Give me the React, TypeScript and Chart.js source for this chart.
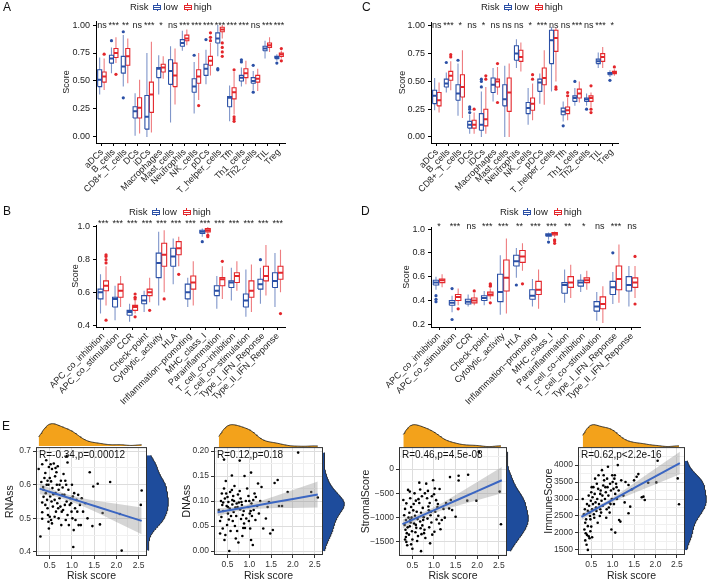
import React, { useEffect, useRef } from 'react';
import { Chart, registerables } from 'chart.js';
Chart.register(...registerables);

const FONT = '"Liberation Sans", Arial, Helvetica, sans-serif';
Chart.defaults.font.family = FONT;
Chart.defaults.color = '#222';

// ---------------- data ----------------
const immuneCells = ['aDCs', 'B_cells', 'CD8+_T_cells', 'DCs', 'iDCs', 'Macrophages', 'Mast_cells', 'Neutrophils', 'NK_cells', 'pDCs', 'T_helper_cells', 'Tfh', 'Th1_cells', 'Th2_cells', 'TIL', 'Treg'];
const immuneFunctions = ['APC_co_inhibition', 'APC_co_stimulation', 'CCR', 'Check\u2212point', 'Cytolytic_activity', 'HLA', 'Inflammation\u2212promoting', 'MHC_class_I', 'Parainflammation', 'T_cell_co\u2212inhibition', 'T_cell_co\u2212stimulation', 'Type_I_IFN_Reponse', 'Type_II_IFN_Reponse'];

// [lower whisker, q1, median, q3, upper whisker]
const aLow = [[0.38, 0.45, 0.51, 0.60, 0.71], [0.57, 0.66, 0.70, 0.73, 0.80], [0.45, 0.57, 0.63, 0.72, 0.91], [0.01, 0.17, 0.23, 0.27, 0.39], [0.00, 0.07, 0.18, 0.37, 0.75], [0.38, 0.53, 0.61, 0.62, 0.73], [0.13, 0.47, 0.59, 0.69, 0.81], [0.77, 0.81, 0.84, 0.87, 0.95], [0.21, 0.40, 0.45, 0.52, 0.67], [0.47, 0.55, 0.61, 0.65, 0.78], [0.72, 0.84, 0.88, 0.93, 1.00], [0.14, 0.27, 0.35, 0.36, 0.46], [0.45, 0.50, 0.53, 0.55, 0.62], [0.42, 0.48, 0.50, 0.53, 0.59], [0.70, 0.77, 0.79, 0.81, 0.86], [0.68, 0.70, 0.71, 0.72, 0.74]];
const aLowOut = [[], [0.86], [0.94, 0.35], [], [], [], [], [], [0.73], [0.87], [0.60, 0.61], [], [0.67, 0.69], [0.40, 0.64], [], [0.66]];
const aHigh = [[0.42, 0.49, 0.54, 0.58, 0.70], [0.66, 0.71, 0.75, 0.79, 0.89], [0.48, 0.64, 0.72, 0.79, 0.88], [0.03, 0.17, 0.26, 0.35, 0.51], [0.04, 0.22, 0.38, 0.49, 0.85], [0.52, 0.58, 0.62, 0.65, 0.72], [0.29, 0.45, 0.55, 0.66, 0.79], [0.82, 0.86, 0.88, 0.91, 0.96], [0.33, 0.48, 0.54, 0.60, 0.75], [0.55, 0.64, 0.68, 0.72, 0.84], [0.88, 0.94, 0.96, 0.98, 1.00], [0.20, 0.34, 0.40, 0.44, 0.58], [0.47, 0.53, 0.57, 0.61, 0.68], [0.41, 0.49, 0.52, 0.55, 0.61], [0.76, 0.80, 0.82, 0.84, 0.89], [0.70, 0.72, 0.74, 0.75, 0.77]];
const aHighOut = [[0.74], [0.56], [], [], [], [], [], [], [0.28], [0.86, 0.89, 0.93], [0.72, 0.76, 0.80, 0.84], [0.14, 0.16, 0.18, 0.60], [], [], [], [0.68, 0.79]];
const aSig = ['ns', '***', '**', 'ns', '***', '*', 'ns', '***', '***', '***', '***', '***', '***', 'ns', '***', '***'];

const cLow = [[0.24, 0.30, 0.37, 0.42, 0.53], [0.40, 0.45, 0.48, 0.52, 0.58], [0.19, 0.33, 0.39, 0.47, 0.66], [0.03, 0.08, 0.11, 0.14, 0.20], [0.00, 0.06, 0.11, 0.21, 0.41], [0.32, 0.40, 0.47, 0.53, 0.62], [0.00, 0.28, 0.34, 0.47, 0.64], [0.62, 0.69, 0.75, 0.82, 0.88], [0.11, 0.21, 0.26, 0.31, 0.44], [0.30, 0.41, 0.49, 0.52, 0.57], [0.41, 0.66, 0.87, 0.96, 0.99], [0.14, 0.20, 0.23, 0.26, 0.32], [0.28, 0.32, 0.35, 0.37, 0.44], [0.28, 0.32, 0.34, 0.35, 0.39], [0.62, 0.66, 0.68, 0.70, 0.76], [0.54, 0.56, 0.57, 0.58, 0.60]];
const cLowOut = [[], [0.67], [0.69], [0.22, 0.25, 0.27], [0.45, 0.50, 0.52], [], [], [], [], [], [], [0.10], [0.50], [0.25], [], [0.51]];
const cHigh = [[0.22, 0.28, 0.33, 0.40, 0.49], [0.42, 0.51, 0.55, 0.59, 0.68], [0.17, 0.36, 0.45, 0.56, 0.78], [0.03, 0.08, 0.11, 0.15, 0.22], [0.03, 0.10, 0.16, 0.25, 0.45], [0.38, 0.45, 0.50, 0.52, 0.63], [0.00, 0.23, 0.40, 0.53, 0.66], [0.59, 0.68, 0.72, 0.78, 0.85], [0.15, 0.24, 0.30, 0.35, 0.48], [0.29, 0.47, 0.53, 0.62, 0.78], [0.50, 0.77, 0.89, 0.96, 0.98], [0.15, 0.21, 0.24, 0.27, 0.35], [0.31, 0.35, 0.39, 0.43, 0.50], [0.27, 0.32, 0.35, 0.37, 0.40], [0.62, 0.68, 0.72, 0.75, 0.81], [0.55, 0.57, 0.58, 0.59, 0.61]];
const cHighOut = [[], [0.72, 0.74], [], [0.25], [0.52, 0.55], [0.31, 0.66], [], [], [0.52, 0.56], [], [0.43, 0.45], [0.37, 0.40], [], [0.22, 0.25, 0.46], [], [0.63]];
const cSig = ['ns', '***', '*', 'ns', '*', 'ns', 'ns', 'ns', '*', '***', 'ns', 'ns', '***', 'ns', '***', '*'];

const bLow = [[0.47, 0.56, 0.60, 0.62, 0.71], [0.43, 0.51, 0.56, 0.57, 0.64], [0.42, 0.46, 0.48, 0.49, 0.53], [0.48, 0.53, 0.55, 0.58, 0.61], [0.52, 0.69, 0.78, 0.84, 0.97], [0.65, 0.76, 0.82, 0.87, 0.93], [0.51, 0.56, 0.60, 0.65, 0.69], [0.94, 0.96, 0.97, 0.98, 0.99], [0.50, 0.58, 0.61, 0.64, 0.70], [0.55, 0.63, 0.66, 0.67, 0.75], [0.45, 0.51, 0.55, 0.59, 0.74], [0.53, 0.62, 0.65, 0.68, 0.75], [0.51, 0.63, 0.67, 0.72, 0.84]];
const bLowOut = [[], [], [], [], [], [], [], [0.91], [], [], [], [0.80], []];
const bHigh = [[0.52, 0.61, 0.64, 0.67, 0.76], [0.51, 0.57, 0.61, 0.65, 0.70], [0.47, 0.49, 0.51, 0.52, 0.55], [0.54, 0.58, 0.60, 0.62, 0.69], [0.60, 0.76, 0.83, 0.90, 0.98], [0.76, 0.83, 0.87, 0.91, 0.94], [0.52, 0.62, 0.66, 0.70, 0.79], [0.96, 0.97, 0.98, 0.99, 1.00], [0.56, 0.64, 0.68, 0.69, 0.76], [0.61, 0.66, 0.70, 0.72, 0.79], [0.48, 0.57, 0.61, 0.67, 0.77], [0.58, 0.67, 0.70, 0.76, 0.89], [0.60, 0.68, 0.72, 0.76, 0.86]];
const bHighOut = [[0.78, 0.80, 0.82, 0.83, 0.43], [], [0.56, 0.57, 0.59, 0.45], [0.49], [0.56], [0.71], [], [0.94, 0.95], [0.79], [], [], [], [0.47]];
const bSig = ['***', '***', '***', '***', '***', '***', '***', '***', '***', '***', '***', '***', '***'];

const dLow = [[0.49, 0.53, 0.55, 0.57, 0.60], [0.30, 0.36, 0.38, 0.40, 0.44], [0.35, 0.37, 0.39, 0.41, 0.45], [0.36, 0.40, 0.42, 0.44, 0.48], [0.28, 0.39, 0.47, 0.62, 0.78], [0.59, 0.69, 0.73, 0.78, 0.84], [0.35, 0.41, 0.44, 0.49, 0.58], [0.91, 0.94, 0.95, 0.96, 0.97], [0.38, 0.46, 0.53, 0.55, 0.66], [0.47, 0.52, 0.55, 0.57, 0.62], [0.23, 0.31, 0.35, 0.39, 0.47], [0.37, 0.45, 0.51, 0.56, 0.64], [0.35, 0.48, 0.53, 0.60, 0.69]];
const dLowOut = [[0.39, 0.41, 0.44], [0.24, 0.50], [], [], [], [0.53], [], [0.89], [], [], [], [0.80], []];
const dHigh = [[0.51, 0.55, 0.57, 0.58, 0.62], [0.36, 0.40, 0.43, 0.45, 0.50], [0.36, 0.38, 0.40, 0.42, 0.46], [0.41, 0.44, 0.45, 0.47, 0.50], [0.29, 0.48, 0.59, 0.74, 0.92], [0.65, 0.72, 0.77, 0.82, 0.88], [0.33, 0.45, 0.49, 0.56, 0.66], [0.93, 0.95, 0.96, 0.97, 0.98], [0.42, 0.51, 0.55, 0.60, 0.70], [0.49, 0.55, 0.57, 0.59, 0.65], [0.21, 0.33, 0.37, 0.43, 0.52], [0.38, 0.49, 0.58, 0.69, 0.87], [0.42, 0.51, 0.55, 0.59, 0.69]];
const dHighOut = [[], [0.33], [0.48], [0.52, 0.53, 0.54, 0.38], [], [0.54], [], [0.88, 0.90, 0.91], [], [], [], [], [0.77, 0.37]];
const dSig = ['*', '***', 'ns', '***', '***', '**', '***', '***', '**', '*', 'ns', '***', 'ns'];

// tick labels
const ticksAC = [0, 0.25, 0.5, 0.75, 1.0];
const ticksACLabels = ['0.00', '0.25', '0.50', '0.75', '1.00'];
const ticksB = [0.4, 0.6, 0.8, 1.0];
const ticksBLabels = ['0.4', '0.6', '0.8', '1.0'];
const ticksD = [0.2, 0.4, 0.6, 0.8, 1.0];
const ticksDLabels = ['0.2', '0.4', '0.6', '0.8', '1.0'];

// Panel E scatter data: [risk score, value]
const rnaPoints = [[0.25, 0.647], [0.33, 0.661], [0.31, 0.608], [0.35, 0.593], [0.36, 0.564], [0.33, 0.547], [0.33, 0.518], [0.33, 0.499], [0.29, 0.446], [0.42, 0.673], [0.40, 0.635], [0.45, 0.612], [0.43, 0.600], [0.41, 0.575], [0.44, 0.555], [0.40, 0.540], [0.46, 0.510], [0.47, 0.490], [0.48, 0.470], [0.52, 0.661], [0.55, 0.647], [0.50, 0.620], [0.53, 0.610], [0.56, 0.590], [0.51, 0.565], [0.54, 0.550], [0.57, 0.535], [0.50, 0.505], [0.53, 0.495], [0.55, 0.485], [0.59, 0.663], [0.65, 0.637], [0.68, 0.655], [0.62, 0.625], [0.66, 0.600], [0.70, 0.585], [0.63, 0.575], [0.72, 0.560], [0.67, 0.545], [0.74, 0.535], [0.64, 0.520], [0.70, 0.500], [0.76, 0.480], [0.88, 0.685], [0.90, 0.666], [0.81, 0.632], [0.85, 0.612], [0.79, 0.592], [0.92, 0.585], [0.83, 0.570], [0.88, 0.550], [0.95, 0.540], [0.80, 0.525], [0.90, 0.510], [0.86, 0.495], [0.93, 0.480], [1.00, 0.600], [1.05, 0.575], [1.02, 0.565], [1.10, 0.555], [0.98, 0.545], [1.07, 0.530], [1.12, 0.520], [1.01, 0.500], [1.08, 0.495], [1.15, 0.480], [1.04, 0.465], [1.03, 0.415], [1.22, 0.560], [1.30, 0.545], [1.25, 0.520], [1.35, 0.500], [1.20, 0.480], [1.40, 0.637], [1.48, 0.595], [1.58, 0.603], [1.46, 0.477], [1.63, 0.482], [1.69, 0.516], [1.86, 0.608], [2.12, 0.404], [2.08, 0.513], [2.57, 0.583], [2.55, 0.540], [0.38, 0.620], [0.47, 0.600], [0.58, 0.572], [0.61, 0.555], [0.75, 0.612], [0.78, 0.570], [0.69, 0.530], [0.96, 0.560], [0.84, 0.540], [0.61, 0.505], [0.72, 0.600], [0.45, 0.530], [0.77, 0.520], [0.99, 0.520], [1.14, 0.570], [0.36, 0.585], [0.48, 0.653], [0.63, 0.650], [0.87, 0.600], [1.18, 0.540]];
const dnaPoints = [[0.42, 0.183], [0.78, 0.181], [1.04, 0.157], [0.60, 0.151], [0.42, 0.125], [0.37, 0.115], [0.35, 0.100], [0.38, 0.092], [0.40, 0.080], [0.36, 0.068], [0.33, 0.060], [0.39, 0.045], [0.33, 0.035], [0.45, 0.032], [0.43, 0.022], [0.47, 0.115], [0.50, 0.108], [0.52, 0.098], [0.48, 0.090], [0.55, 0.085], [0.51, 0.075], [0.53, 0.063], [0.49, 0.052], [0.57, 0.040], [0.54, 0.000], [0.46, 0.140], [0.60, 0.122], [0.63, 0.110], [0.65, 0.100], [0.61, 0.093], [0.68, 0.087], [0.64, 0.078], [0.70, 0.070], [0.62, 0.060], [0.67, 0.050], [0.72, 0.040], [0.69, 0.025], [0.75, 0.017], [0.66, 0.130], [0.78, 0.120], [0.80, 0.105], [0.76, 0.097], [0.83, 0.092], [0.79, 0.083], [0.85, 0.072], [0.81, 0.064], [0.88, 0.055], [0.86, 0.046], [0.90, 0.046], [0.84, 0.030], [0.92, 0.100], [0.74, 0.113], [0.95, 0.125], [0.98, 0.110], [1.00, 0.100], [0.97, 0.088], [1.03, 0.080], [1.06, 0.070], [0.99, 0.060], [1.02, 0.045], [1.04, 0.022], [1.08, 0.012], [1.05, 0.095], [1.12, 0.115], [1.15, 0.108], [1.18, 0.090], [1.10, 0.082], [1.22, 0.075], [1.14, 0.062], [1.25, 0.100], [1.28, 0.128], [1.20, 0.135], [1.32, 0.045], [1.38, 0.065], [1.42, 0.088], [1.48, 0.035], [1.54, 0.042], [1.58, 0.136], [1.65, 0.142], [1.68, 0.090], [1.75, 0.090], [1.88, 0.118], [2.12, 0.197], [2.42, 0.118], [2.57, 0.107], [1.45, 0.098], [0.30, 0.082], [0.44, 0.105], [0.58, 0.070], [0.71, 0.095], [0.87, 0.080], [0.93, 0.065], [0.56, 0.118], [0.73, 0.088], [0.89, 0.150], [1.09, 0.102], [0.82, 0.098], [0.61, 0.102], [0.40, 0.097], [0.51, 0.088], [1.01, 0.075]];
const stromalPoints = [[0.29, -637], [0.40, -429], [0.44, -464], [0.36, -706], [0.33, -820], [0.31, -950], [0.35, -1050], [0.32, -1150], [0.34, -1250], [0.37, -1320], [0.35, -1400], [0.36, -1500], [0.38, -1570], [0.33, -1450], [0.39, -1200], [0.45, -600], [0.47, -780], [0.43, -900], [0.48, -1000], [0.46, -1100], [0.44, -1180], [0.49, -1280], [0.42, -1350], [0.50, -1450], [0.47, -1550], [0.50, -1640], [0.45, -1050], [0.55, -500], [0.58, -650], [0.53, -720], [0.60, -880], [0.56, -960], [0.62, -1030], [0.54, -1120], [0.59, -1210], [0.57, -1300], [0.63, -1380], [0.61, -1480], [0.66, -280], [0.70, -1690], [0.68, -420], [0.72, -560], [0.66, -700], [0.74, -800], [0.70, -900], [0.76, -990], [0.68, -1080], [0.73, -1160], [0.78, -1250], [0.71, -1340], [0.80, -1420], [0.75, -1050], [0.82, -300], [0.86, -450], [0.84, -600], [0.90, -700], [0.88, -850], [0.92, -950], [0.85, -1020], [0.94, -1100], [0.89, -1200], [0.96, -1350], [0.91, -1530], [0.87, -770], [0.98, -230], [1.02, -400], [1.00, -520], [1.05, -640], [1.08, -780], [1.03, -880], [1.10, -960], [1.06, -1040], [1.12, -1120], [1.15, -1240], [1.09, -720], [1.13, -410], [1.18, -1050], [1.22, -820], [1.28, -700], [1.35, -810], [1.37, -166], [1.39, -637], [1.42, -845], [1.50, -983], [1.57, -138], [1.57, -235], [1.77, -650], [1.79, -118], [1.98, -650], [2.04, 353], [2.52, -464], [2.55, -1135], [1.25, -1000], [0.52, -850], [0.64, -620], [0.79, -500], [0.95, -560], [0.41, -1000], [0.58, -1150], [0.77, -1320], [1.01, -1290], [0.93, -880], [0.69, -1220]];
const immunePoints = [[0.30, 3000], [0.35, 2700], [0.33, 2550], [0.38, 2400], [0.36, 2300], [0.42, 2200], [0.37, 1990], [0.40, 1942], [0.46, 1844], [0.39, 1650], [0.42, 1500], [0.34, 2100], [0.44, 1900], [0.48, 2050], [0.52, 1873], [0.50, 2187], [0.36, 1780], [0.42, 2650], [0.45, 2800], [0.47, 2500], [0.44, 3100], [0.49, 2950], [0.46, 2600], [0.50, 3200], [0.52, 2700], [0.48, 2400], [0.54, 2850], [0.56, 2550], [0.53, 3050], [0.40, 2850], [0.58, 3150], [0.60, 2900], [0.62, 2650], [0.57, 2450], [0.64, 3000], [0.66, 3300], [0.61, 2750], [0.68, 2850], [0.63, 3450], [0.70, 2500], [0.65, 2300], [0.59, 3600], [0.55, 3350], [0.72, 3250], [0.74, 2950], [0.76, 3100], [0.71, 2700], [0.78, 3400], [0.80, 3550], [0.73, 2600], [0.82, 3000], [0.77, 2800], [0.84, 3200], [0.79, 3700], [0.86, 2700], [0.75, 3850], [0.88, 3350], [0.90, 3100], [0.92, 2900], [0.87, 3600], [0.94, 3450], [0.96, 3250], [0.91, 2750], [0.98, 3000], [0.93, 2600], [1.00, 3500], [0.97, 2100], [0.89, 3950], [0.85, 2450], [1.02, 3300], [1.04, 3600], [1.06, 3150], [1.03, 2850], [1.08, 3450], [1.10, 3000], [1.05, 3700], [1.12, 4000], [1.06, 2010], [1.15, 2383], [1.18, 2334], [1.14, 3250], [1.20, 3550], [1.25, 3100], [1.30, 3500], [1.37, 3412], [1.45, 3285], [1.37, 2580], [1.41, 2775], [1.56, 3657], [1.60, 3735], [1.68, 3050], [1.72, 3069], [1.75, 2970], [1.83, 3480], [2.02, 3490], [2.05, 4127], [2.52, 3608], [2.55, 2844], [1.50, 3550], [1.28, 2900], [0.67, 3700], [0.51, 3350], [0.83, 3350], [0.99, 3700], [1.09, 3350], [0.71, 3150], [0.95, 2850]];

// fitted regression lines and 95% bands
const bandX = [0.27, 0.6, 0.9, 1.2, 1.6, 2.0, 2.57];
const rnaFit = [0.5884, 0.5747, 0.5622, 0.5497, 0.533, 0.5163, 0.4925];
const rnaLo = [0.572, 0.5657, 0.5532, 0.5387, 0.515, 0.4893, 0.4525];
const rnaHi = [0.6044, 0.5837, 0.5712, 0.5607, 0.551, 0.5433, 0.5325];
const dnaFit = [0.0774, 0.0825, 0.0872, 0.0918, 0.098, 0.1042, 0.113];
const dnaLo = [0.0694, 0.0775, 0.0822, 0.0848, 0.086, 0.0862, 0.087];
const dnaHi = [0.0854, 0.0875, 0.0922, 0.0988, 0.11, 0.1222, 0.139];
const strFit = [-1134, -1004, -886, -768, -611, -454, -230];
const strLo = [-1229, -1064, -946, -843, -741, -644, -500];
const strHi = [-1039, -944, -826, -693, -481, -264, 40];
const immFit = [2473, 2701, 2908, 3115, 3391, 3667, 4060];
const immLo = [2373, 2636, 2843, 3025, 3231, 3437, 3730];
const immHi = [2573, 2766, 2973, 3205, 3551, 3897, 4390];

const riskTicks = [0.5, 1.0, 1.5, 2.0, 2.5];
const riskTickLabels = ['0.5', '1.0', '1.5', '2.0', '2.5'];
const riskMinor = [0.25, 0.75, 1.25, 1.75, 2.25];
const rnaTicks = [0.4, 0.5, 0.6, 0.7];
const rnaTickLabels = ['0.4', '0.5', '0.6', '0.7'];
const rnaMinor = [0.45, 0.55, 0.65];
const dnaTicks = [0, 0.05, 0.1, 0.15, 0.2];
const dnaTickLabels = ['0.00', '0.05', '0.10', '0.15', '0.20'];
const dnaMinor = [0.025, 0.075, 0.125, 0.175];
const strTicks = [-1500, -1000, -500, 0];
const strTickLabels = ['\u22121500', '\u22121000', '\u2212500', '0'];
const strMinor = [-1750, -1250, -750, -250, 250];
const immTicks = [1500, 2000, 2500, 3000, 3500, 4000];
const immTickLabels = ['1500', '2000', '2500', '3000', '3500', '4000'];
const immMinor = [1750, 2250, 2750, 3250, 3750, 4250];

// ---------------- style ----------------
const BLUE = '#2B50A6';
const RED = '#E3262B';
const BLUE_L = 'rgba(43,80,166,0.6)';
const RED_L = 'rgba(227,38,43,0.6)';
const ORANGE = '#F3A21B';
const DENS_BLUE = '#1E4C9C';
const BOX_FONT = 9;
const E_TICK = 8.5;
const E_TITLE = 10.5;
const E_NOTE = 10;

const sigPlugin = {
  id: 'sig',
  afterDatasetsDraw(chart, _args, opts) {
    if (!opts || !opts.labels) return;
    const { ctx, scales } = chart;
    ctx.save();
    ctx.font = `${BOX_FONT}px ${FONT}`;
    ctx.fillStyle = '#222';
    ctx.textAlign = 'center';
    ctx.textBaseline = 'middle';
    const labels = opts.labels;
    for (let i = 0; i < labels.length; i++) {
      ctx.fillText(labels[i], scales.x.getPixelForValue(i), scales.y.getPixelForValue(opts.y));
    }
    ctx.restore();
  },
};

const framePlugin = {
  id: 'frame',
  afterDraw(chart, _args, opts) {
    if (!opts || !opts.text) return;
    const { ctx, chartArea: ca } = chart;
    ctx.save();
    ctx.strokeStyle = '#333';
    ctx.lineWidth = 1;
    ctx.strokeRect(ca.left + 0.5, ca.top + 0.5, ca.right - ca.left - 1, ca.bottom - ca.top - 1);
    ctx.font = `${E_NOTE}px ${FONT}`;
    ctx.fillStyle = '#111';
    ctx.textBaseline = 'middle';
    ctx.textAlign = 'left';
    ctx.fillText(opts.text, ca.left + 3, ca.top + 8);
    ctx.restore();
  },
};

function boxDatasets(stats, outs, offset, color, light) {
  const w = 0.17;
  const boxes = [];
  const meds = [];
  const whisk = [];
  const pts = [];
  stats.forEach(([lo, q1, med, q3, hi], i) => {
    const c = i + offset;
    boxes.push({ x: c - w, y: q1 }, { x: c + w, y: q1 }, { x: c + w, y: q3 }, { x: c - w, y: q3 }, { x: c - w, y: q1 }, { x: c, y: null });
    meds.push({ x: c - w, y: med }, { x: c + w, y: med }, { x: c, y: null });
    whisk.push({ x: c, y: lo }, { x: c, y: q1 }, { x: c, y: null }, { x: c, y: q3 }, { x: c, y: hi }, { x: c, y: null });
    (outs[i] || []).forEach((v) => pts.push({ x: c, y: v }));
  });
  const base = { pointRadius: 0, fill: false, tension: 0, spanGaps: false };
  return [
    { ...base, data: whisk, borderColor: light, borderWidth: 1.1, order: 3 },
    { ...base, data: boxes, borderColor: color, borderWidth: 1.1, order: 2, borderJoinStyle: 'miter' },
    { ...base, data: meds, borderColor: color, borderWidth: 2, order: 1 },
    { data: pts, showLine: false, pointRadius: 1.6, pointBorderWidth: 0, pointBackgroundColor: color, order: 0 },
  ];
}

function boxConfig(p) {
  return {
    type: 'line',
    data: {
      datasets: [...boxDatasets(p.low, p.lowOut, -0.19, BLUE, BLUE_L), ...boxDatasets(p.high, p.highOut, 0.19, RED, RED_L)],
    },
    options: {
      responsive: false,
      animation: false,
      events: [],
      layout: { padding: p.padding },
      plugins: { legend: { display: false }, tooltip: { enabled: false }, sig: { labels: p.sig, y: p.sigY } },
      scales: {
        x: {
          type: 'linear',
          min: -0.5,
          max: p.cats.length - 0.5,
          afterBuildTicks: (s) => { s.ticks = p.cats.map((_, i) => ({ value: i })); },
          afterFit: (s) => { s.height = p.xHeight; },
          ticks: { autoSkip: false, minRotation: 45, maxRotation: 45, padding: 1, color: '#222', font: { size: BOX_FONT }, callback: (v) => p.cats[Math.round(v)] },
          grid: { drawOnChartArea: false, drawTicks: true, tickLength: 3, tickColor: '#000' },
          border: { display: true, color: '#000', width: 1 },
        },
        y: {
          type: 'linear',
          min: p.yMin,
          max: p.yMax,
          afterBuildTicks: (s) => { s.ticks = p.yTicks.map((v) => ({ value: v })); },
          afterFit: (s) => { s.width = p.yWidth; },
          ticks: { padding: 3, color: '#222', font: { size: BOX_FONT }, callback: (_v, i) => p.yLabels[i] },
          grid: { drawOnChartArea: false, drawTicks: true, tickLength: 3, tickColor: '#000' },
          border: { display: true, color: '#000', width: 1 },
          title: { display: true, text: 'Score', color: '#222', font: { size: BOX_FONT }, padding: { top: 4, bottom: 0 } },
        },
      },
    },
    plugins: [sigPlugin],
  };
}

function gridAxis(major, labels, minor, min, max, title, fit, isX) {
  const all = [...major, ...minor].filter((v) => v >= min && v <= max).sort((a, b) => a - b);
  const isMajor = (v) => major.some((m) => Math.abs(m - v) < 1e-9);
  return {
    type: 'linear',
    min,
    max,
    afterBuildTicks: (s) => { s.ticks = all.map((v) => ({ value: v })); },
    afterFit: (s) => { if (isX) s.height = fit; else s.width = fit; },
    ticks: {
      autoSkip: false,
      maxRotation: 0,
      padding: 2,
      color: '#333',
      font: { size: E_TICK },
      callback: (v) => { const k = major.findIndex((m) => Math.abs(m - v) < 1e-9); return k >= 0 ? labels[k] : ''; },
    },
    grid: {
      drawOnChartArea: true,
      drawTicks: true,
      tickLength: 3,
      color: (c) => (c.tick && isMajor(c.tick.value) ? '#DDDDDD' : '#F0F0F0'),
      tickColor: (c) => (c.tick && isMajor(c.tick.value) ? '#333' : 'rgba(0,0,0,0)'),
      lineWidth: 1,
    },
    border: { display: false },
    title: { display: true, text: title, color: '#222', font: { size: E_TITLE }, padding: isX ? { top: 0, bottom: 1 } : { top: 2, bottom: 0 } },
  };
}

const X_MIN = 0.19;
const X_MAX = 2.69;

function scatterConfig(p) {
  const band = { pointRadius: 0, borderWidth: 0, tension: 0 };
  return {
    type: 'line',
    data: {
      datasets: [
        { data: bandX.map((x, i) => ({ x, y: p.fit[i] })), borderColor: '#3B66C2', borderWidth: 2, pointRadius: 0, fill: false, order: 0 },
        { ...band, data: bandX.map((x, i) => ({ x, y: p.hi[i] })), fill: '+1', backgroundColor: 'rgba(150,150,150,0.4)', order: 1 },
        { ...band, data: bandX.map((x, i) => ({ x, y: p.lo[i] })), fill: false, order: 1 },
        { data: p.pts.map(([x, y]) => ({ x, y })), showLine: false, pointRadius: 1.3, pointBorderWidth: 0, pointBackgroundColor: '#000', order: 2 },
      ],
    },
    options: {
      responsive: false,
      animation: false,
      events: [],
      layout: { padding: p.padding },
      plugins: { legend: { display: false }, tooltip: { enabled: false }, frame: { text: p.text } },
      scales: {
        x: gridAxis(riskTicks, riskTickLabels, riskMinor, X_MIN, X_MAX, 'Risk score', p.xHeight, true),
        y: gridAxis(p.yTicks, p.yLabels, p.yMinor, p.yMin, p.yMax, p.yTitle, p.yWidth, false),
      },
    },
    plugins: [framePlugin],
  };
}

function kde(vals) {
  const n = 128;
  const N = vals.length;
  const s = [...vals].sort((a, b) => a - b);
  const mean = s.reduce((a, b) => a + b, 0) / N;
  const sd = Math.sqrt(s.reduce((a, b) => a + (b - mean) * (b - mean), 0) / (N - 1));
  const q = (pp) => { const h = (N - 1) * pp; const l = Math.floor(h); return s[l] + (h - l) * (s[Math.min(l + 1, N - 1)] - s[l]); };
  const iqr = q(0.75) - q(0.25);
  const bw = 0.9 * Math.min(sd, iqr / 1.34) * Math.pow(N, -0.2);
  const out = [];
  for (let i = 0; i < n; i++) {
    const t = s[0] + ((s[N - 1] - s[0]) * i) / (n - 1);
    let d = 0;
    for (const v of s) { const z = (t - v) / bw; d += Math.exp(-0.5 * z * z); }
    out.push([t, d / (N * bw * Math.sqrt(2 * Math.PI))]);
  }
  return out;
}

function densityConfig(vals, vertical, min, max, padding, color) {
  const dens = kde(vals);
  const peak = Math.max(...dens.map((d) => d[1]));
  const data = dens.map(([t, d]) => (vertical ? { x: d, y: t } : { x: t, y: d }));
  const valueAxis = { type: 'linear', display: false, min: 0, max: peak * 1.03 };
  const posAxis = { type: 'linear', display: false, min, max };
  return {
    type: 'line',
    data: { datasets: [{ data, borderColor: '#111', borderWidth: 0.8, backgroundColor: color, fill: 'origin', pointRadius: 0, tension: 0 }] },
    options: {
      responsive: false,
      animation: false,
      events: [],
      indexAxis: vertical ? 'y' : 'x',
      layout: { padding },
      plugins: { legend: { display: false }, tooltip: { enabled: false } },
      scales: vertical ? { x: valueAxis, y: posAxis } : { x: posAxis, y: valueAxis },
    },
  };
}

// ---------------- components ----------------
function ChartCanvas({ left, top, width, height, make }) {
  const ref = useRef(null);
  useEffect(() => {
    const chart = new Chart(ref.current, make());
    return () => chart.destroy();
  }, []);
  return <canvas ref={ref} width={width} height={height} style={{ position: 'absolute', left, top, width, height }} />;
}

function LegendIcon({ color }) {
  return (
    <span style={{ position: 'relative', display: 'inline-block', width: 8, height: 8, margin: '0 2px 0 4px' }}>
      <span style={{ position: 'absolute', left: 3.5, top: 0, width: 1, height: 8, background: color }} />
      <span style={{ position: 'absolute', left: 0, top: 1.5, width: 6, height: 3, border: `1px solid ${color}`, background: '#fff' }} />
      <span style={{ position: 'absolute', left: 1, top: 3.5, width: 6, height: 1, background: color }} />
    </span>
  );
}

function Legend({ left, top }) {
  return (
    <div style={{ position: 'absolute', left, top, display: 'flex', alignItems: 'center', fontFamily: FONT, fontSize: 9.5, color: '#222', lineHeight: '12px', whiteSpace: 'nowrap' }}>
      <span style={{ marginRight: 1 }}>Risk</span>
      <LegendIcon color={BLUE} />
      <span style={{ marginRight: 2 }}>low</span>
      <LegendIcon color={RED} />
      <span>high</span>
    </div>
  );
}

function Letter({ left, top, text }) {
  return <div style={{ position: 'absolute', left, top, fontFamily: FONT, fontSize: 12, color: '#111', lineHeight: '13px' }}>{text}</div>;
}

const scatterPanels = [
  { left: 0, width: 177, ca: [36, 147, 446, 556], pts: rnaPoints, fit: rnaFit, lo: rnaLo, hi: rnaHi, yTicks: rnaTicks, yLabels: rnaTickLabels, yMinor: rnaMinor, yMin: 0.388, yMax: 0.712, yTitle: 'RNAss', text: 'R=-0.34,p=0.00012', padLeft: 2 },
  { left: 177, width: 177, ca: [214, 323, 447, 555], pts: dnaPoints, fit: dnaFit, lo: dnaLo, hi: dnaHi, yTicks: dnaTicks, yLabels: dnaTickLabels, yMinor: dnaMinor, yMin: -0.008, yMax: 0.208, yTitle: 'DNAss', text: 'R=0.12,p=0.18', padLeft: 2 },
  { left: 355, width: 177, ca: [399, 507, 447, 556], pts: stromalPoints, fit: strFit, lo: strLo, hi: strHi, yTicks: strTicks, yLabels: strTickLabels, yMinor: strMinor, yMin: -1790, yMax: 452, yTitle: 'StromalScore', text: 'R=0.46,p=4.5e-08', padLeft: 3 },
  { left: 532, width: 179, ca: [578, 685, 447, 555], pts: immunePoints, fit: immFit, lo: immLo, hi: immHi, yTicks: immTicks, yLabels: immTickLabels, yMinor: immMinor, yMin: 1350, yMax: 4530, yTitle: 'ImmuneScore', text: 'R=0.62,p<2.2e-16', padLeft: 9 },
];

const E_TOP = 440;
const E_H = 143;

export default function App() {
  return (
    <div style={{ position: 'absolute', left: 0, top: 0, width: 711, height: 583, background: '#fff', overflow: 'hidden' }}>
      <ChartCanvas left={0} top={0} width={300} height={200} make={() => boxConfig({ cats: immuneCells, low: aLow, lowOut: aLowOut, high: aHigh, highOut: aHighOut, sig: aSig, sigY: 1.0, yMin: -0.054, yMax: 1.036, yTicks: ticksAC, yLabels: ticksACLabels, padding: { left: 57, right: 15, top: 21, bottom: 0 }, yWidth: 39, xHeight: 57 })} />
      <ChartCanvas left={355} top={0} width={280} height={200} make={() => boxConfig({ cats: immuneCells, low: cLow, lowOut: cLowOut, high: cHigh, highOut: cHighOut, sig: cSig, sigY: 1.0, yMin: -0.054, yMax: 1.034, yTicks: ticksAC, yLabels: ticksACLabels, padding: { left: 38, right: 17, top: 22, bottom: 0 }, yWidth: 38, xHeight: 57 })} />
      <ChartCanvas left={0} top={200} width={300} height={205} make={() => boxConfig({ cats: immuneFunctions, low: bLow, lowOut: bLowOut, high: bHigh, highOut: bHighOut, sig: bSig, sigY: 1.024, yMin: 0.388, yMax: 1.012, yTicks: ticksB, yLabels: ticksBLabels, padding: { left: 66, right: 15, top: 25, bottom: 0 }, yWidth: 30, xHeight: 78 })} />
      <ChartCanvas left={355} top={200} width={300} height={208} make={() => boxConfig({ cats: immuneFunctions, low: dLow, lowOut: dLowOut, high: dHigh, highOut: dHighOut, sig: dSig, sigY: 1.02, yMin: 0.177, yMax: 1.017, yTicks: ticksD, yLabels: ticksDLabels, padding: { left: 42, right: 15, top: 27, bottom: 0 }, yWidth: 34, xHeight: 81 })} />

      {scatterPanels.map((p, k) => {
        const [l, r, t, b] = p.ca;
        const localL = l - p.left;
        const padRight = p.left + p.width - r;
        const padTop = t - E_TOP;
        const xHeight = E_TOP + E_H - b;
        return (
          <React.Fragment key={k}>
            <ChartCanvas left={p.left} top={E_TOP} width={p.width} height={E_H} make={() => scatterConfig({ pts: p.pts, fit: p.fit, lo: p.lo, hi: p.hi, yTicks: p.yTicks, yLabels: p.yLabels, yMinor: p.yMinor, yMin: p.yMin, yMax: p.yMax, yTitle: p.yTitle, text: p.text, padding: { left: p.padLeft, right: padRight, top: padTop, bottom: 0 }, yWidth: localL - p.padLeft, xHeight })} />
            <ChartCanvas left={p.left} top={t - 25} width={p.width} height={25} make={() => densityConfig(p.pts.map((d) => d[0]), false, X_MIN, X_MAX, { left: localL, right: padRight, top: 2, bottom: 0 }, ORANGE)} />
            <ChartCanvas left={r} top={E_TOP} width={24} height={E_H} make={() => densityConfig(p.pts.map((d) => d[1]), true, p.yMin, p.yMax, { left: 0, right: 2, top: padTop, bottom: xHeight }, DENS_BLUE)} />
          </React.Fragment>
        );
      })}

      <Letter left={3} top={1} text="A" />
      <Letter left={3} top={205} text="B" />
      <Letter left={362} top={1} text="C" />
      <Letter left={361} top={205} text="D" />
      <Letter left={2} top={420} text="E" />
      <Legend left={130} top={1} />
      <Legend left={481} top={1} />
      <Legend left={129} top={206} />
      <Legend left={500} top={206} />
    </div>
  );
}
